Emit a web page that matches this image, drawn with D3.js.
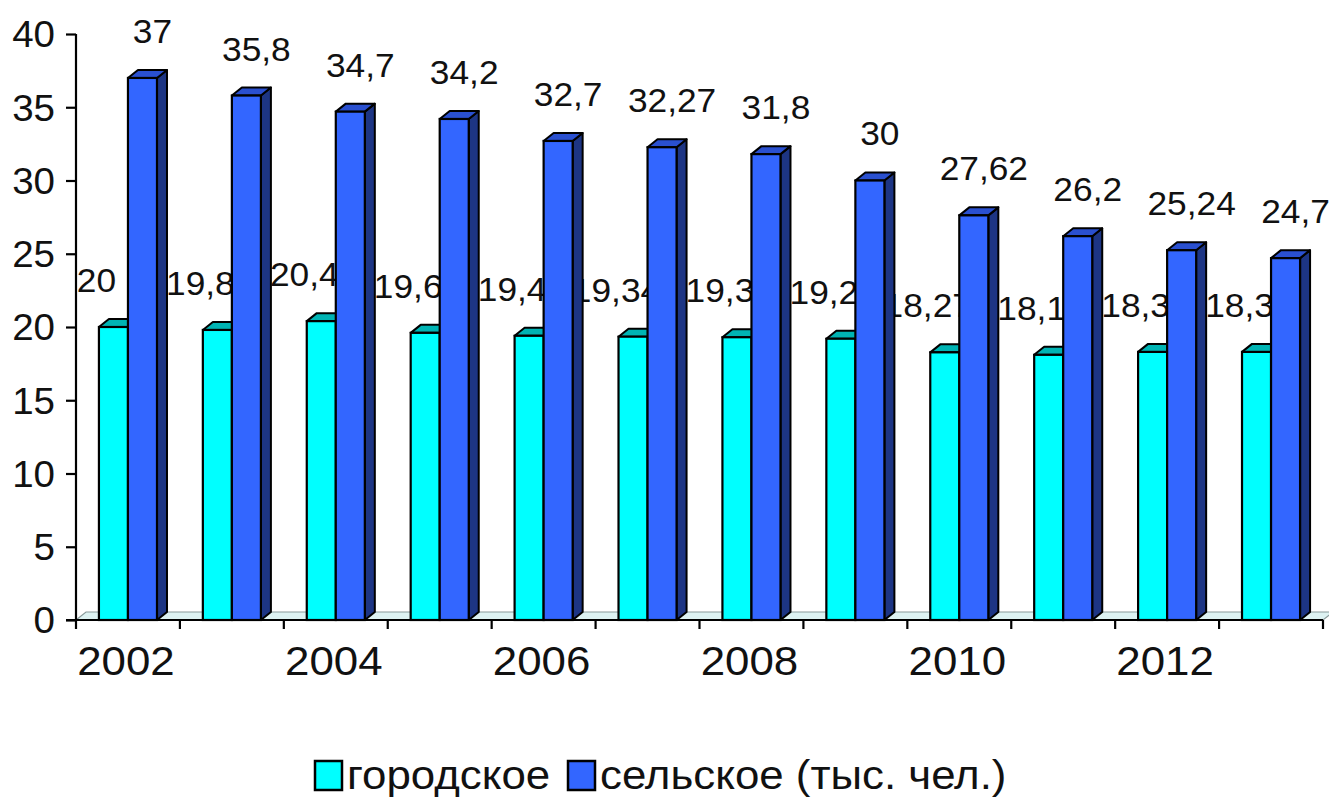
<!DOCTYPE html>
<html>
<head>
<meta charset="utf-8">
<script src="https://cdnjs.cloudflare.com/ajax/libs/d3/7.8.5/d3.min.js"></script>
<style>
	body { margin: 0; background: #fff; }
	svg { font-family: "Liberation Sans", Arial, sans-serif; }
</style>
</head>
<body>
<div id="chart"></div>
<script>
// годы и значения (тыс. чел.)
var years = [2002, 2003, 2004, 2005, 2006, 2007, 2008, 2009, 2010, 2011, 2012, 2013];
var urban = [20, 19.8, 20.4, 19.6, 19.4, 19.34, 19.3, 19.2, 18.27, 18.1, 18.3, 18.3];
var rural = [37, 35.8, 34.7, 34.2, 32.7, 32.27, 31.8, 30, 27.62, 26.2, 25.24, 24.7];
var seriesNames = ["городское", "сельское (тыс. чел.)"];
var yTicks = [0, 5, 10, 15, 20, 25, 30, 35, 40];
var xTickLabels = [2002, 2004, 2006, 2008, 2010, 2012];

var colors = {
	"городское": {front: "#00FFFF", top: "#00B4B4", side: "#008080"},
	"сельское (тыс. чел.)": {front: "#3366FF", top: "#2A50D0", side: "#1D3584"}
};

var W = 1329, H = 798, dx = 10, dy = 8, k = 1.07;
var fmt = function(v) { return String(v).replace(".", ","); };

// text in the original is slightly stretched horizontally
function stretch(sel) {
	sel.each(function() {
		var t = d3.select(this), x = +t.attr("x") || 0;
		t.attr("x", x / k).attr("transform", "scale(" + k + ",1)");
	});
}

var svg = d3.select("#chart").append("svg")
	.attr("width", W)
	.attr("height", H);

var x0 = d3.scaleBand().domain(years).range([76, 1323]).padding(0);
var x1 = d3.scaleBand().domain(seriesNames).range([0, x0.bandwidth()]).paddingInner(0).paddingOuter(0.79);
var y = d3.scaleLinear().domain([0, 40]).range([620, 34]);

var data = years.map(function(yr, i) {
	return {year: yr, values: [
		{name: seriesNames[0], value: urban[i]},
		{name: seriesNames[1], value: rural[i]}
	]};
});

// пол (3D floor)
var y0 = y(0);
svg.append("path")
	.attr("d", "M" + x0.range()[0] + "," + y0 + "L" + (x0.range()[0] + dx) + "," + (y0 - dy) +
		"L" + (x0.range()[1] + dx) + "," + (y0 - dy) + "L" + x0.range()[1] + "," + y0 + "Z")
	.attr("fill", "#DDF2F2")
	.attr("stroke", "#8a9a9a")
	.attr("stroke-width", 1.2);

// подписи городского (под столбцами)
svg.append("g").selectAll("text").data(data).enter().append("text")
	.attr("x", function(d) { return x0(d.year) + x1(seriesNames[0]) + x1.bandwidth() / 2 - 17; })
	.attr("y", function(d) { return y(d.values[0].value) - 35; })
	.attr("text-anchor", "middle")
	.attr("font-size", 33)
	.attr("fill", "#111")
	.text(function(d) { return fmt(d.values[0].value); })
	.call(stretch);

// столбцы
var g = svg.selectAll(".grp").data(data).enter().append("g")
	.attr("transform", function(d) { return "translate(" + x0(d.year) + ",0)"; });

var bar = g.selectAll(".bar").data(function(d) { return d.values; }).enter().append("g");
var bw = x1.bandwidth();
bar.append("path") // side
	.attr("d", function(d) {
		var xr = x1(d.name) + bw, yt = y(d.value);
		return "M" + xr + "," + y0 + "L" + (xr + dx) + "," + (y0 - dy) + "L" + (xr + dx) + "," + (yt - dy) + "L" + xr + "," + yt + "Z";
	})
	.attr("fill", function(d) { return colors[d.name].side; })
	.attr("stroke", "#000").attr("stroke-width", 2).attr("stroke-linejoin", "round");
bar.append("path") // top
	.attr("d", function(d) {
		var xl = x1(d.name), yt = y(d.value);
		return "M" + xl + "," + yt + "L" + (xl + dx) + "," + (yt - dy) + "L" + (xl + bw + dx) + "," + (yt - dy) + "L" + (xl + bw) + "," + yt + "Z";
	})
	.attr("fill", function(d) { return colors[d.name].top; })
	.attr("stroke", "#000").attr("stroke-width", 2).attr("stroke-linejoin", "round");
bar.append("rect") // front
	.attr("x", function(d) { return x1(d.name); })
	.attr("y", function(d) { return y(d.value); })
	.attr("width", bw)
	.attr("height", function(d) { return y0 - y(d.value); })
	.attr("fill", function(d) { return colors[d.name].front; })
	.attr("stroke", "#000").attr("stroke-width", 2.2);

// подписи сельского
svg.append("g").selectAll("text").data(data).enter().append("text")
	.attr("x", function(d) { return x0(d.year) + x1(seriesNames[1]) + bw / 2 + 10; })
	.attr("y", function(d) { return y(d.values[1].value) - 35; })
	.attr("text-anchor", "middle")
	.attr("font-size", 33)
	.attr("fill", "#111")
	.text(function(d) { return fmt(d.values[1].value); })
	.call(stretch);

// оси
var yAxis = svg.append("g")
	.attr("transform", "translate(76,0)")
	.call(d3.axisLeft(y).tickValues(yTicks).tickSize(10).tickPadding(11));
yAxis.select(".domain").attr("d", "M0," + y(40) + "V" + y0).attr("stroke-width", 2.2);
yAxis.selectAll(".tick line").attr("stroke-width", 2.2);
yAxis.selectAll("text").attr("font-size", 36).attr("fill", "#111").attr("dy", "0.36em").call(stretch);

var xAxis = svg.append("g")
	.attr("transform", "translate(0," + y0 + ")");
xAxis.append("line")
	.attr("x1", 66).attr("x2", x0.range()[1])
	.attr("stroke", "#000").attr("stroke-width", 2.2);
xAxis.selectAll(".xt").data(years.concat([null])).enter().append("line")
	.attr("x1", function(d, i) { return x0.range()[0] + i * x0.step(); })
	.attr("x2", function(d, i) { return x0.range()[0] + i * x0.step(); })
	.attr("y1", 0).attr("y2", 9)
	.attr("stroke", "#000").attr("stroke-width", 2.2);
xAxis.selectAll(".xl").data(xTickLabels).enter().append("text")
	.attr("x", function(d) { return x0(d) + x0.bandwidth() / 2 - 2; })
	.attr("y", 55)
	.attr("text-anchor", "middle")
	.attr("font-size", 41)
	.attr("fill", "#111")
	.text(function(d) { return d; })
	.call(stretch);

// легенда
var leg = svg.append("g").attr("transform", "translate(315,761)");
var legX = [0, 253];
var li = leg.selectAll(".li").data(seriesNames).enter().append("g")
	.attr("transform", function(d, i) { return "translate(" + legX[i] + ",0)"; });
li.append("rect")
	.attr("width", 27).attr("height", 29)
	.attr("fill", function(d) { return colors[d].front; })
	.attr("stroke", "#000").attr("stroke-width", 2.5);
li.append("text")
	.attr("x", 32).attr("y", 28)
	.attr("font-size", 41)
	.attr("fill", "#111")
	.text(function(d) { return d; })
	.call(stretch);
</script>
</body>
</html>
